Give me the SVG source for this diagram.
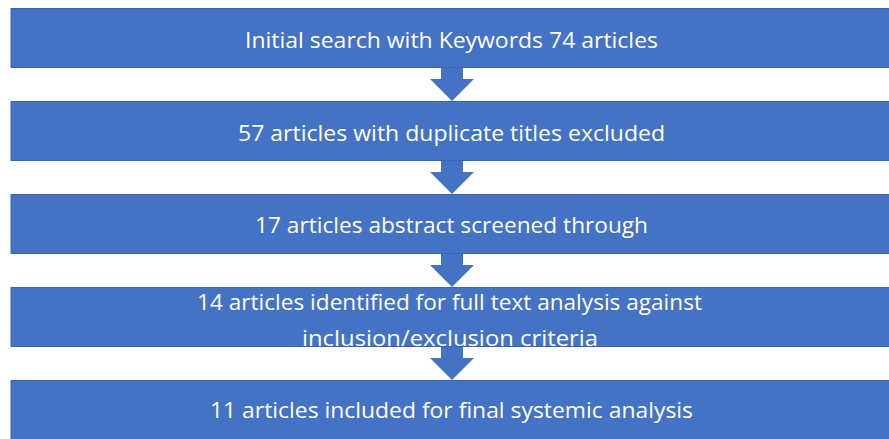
<svg xmlns="http://www.w3.org/2000/svg" width="889" height="439" viewBox="0 0 889 439">
<style>
.box{fill:#4472C4;stroke:#3A65B3;stroke-width:1}
.lbl{fill:#ffffff;font-family:"Open Sans","Noto Sans","Liberation Sans",sans-serif;font-size:22.5px;text-anchor:start}
.arr{fill:#4472C4}
</style>
<rect width="889" height="439" fill="#ffffff"/>
<g id="connectors">
<path class="arr" d="M441,66 L463,66 L463,79 L474,79 L452,101 L430,79 L441,79 Z"/>
<path class="arr" d="M441,159 L463,159 L463,172 L474,172 L452,194 L430,172 L441,172 Z"/>
<path class="arr" d="M441,252 L463,252 L463,265 L474,265 L452,287 L430,265 L441,265 Z"/>
<path class="arr" d="M441,345 L463,345 L463,358 L474,358 L452,380 L430,358 L441,358 Z"/>
</g>
<g id="node1">
<rect class="box" x="11" y="8.5" width="880" height="59"/>
<text class="lbl" x="245" y="48" textLength="413" lengthAdjust="spacingAndGlyphs">Initial search with Keywords 74 articles</text>
</g>
<g id="node2">
<rect class="box" x="11" y="101.5" width="880" height="59"/>
<text class="lbl" x="238" y="141" textLength="427" lengthAdjust="spacingAndGlyphs">57 articles with duplicate titles excluded</text>
</g>
<g id="node3">
<rect class="box" x="11" y="194.5" width="880" height="59"/>
<text class="lbl" x="255" y="233" textLength="393" lengthAdjust="spacingAndGlyphs">17 articles abstract screened through</text>
</g>
<g id="node4">
<rect class="box" x="11" y="287.5" width="880" height="59"/>
<text class="lbl" x="197" y="310" textLength="505" lengthAdjust="spacingAndGlyphs">14 articles identified for full text analysis against</text>
<text class="lbl" x="302" y="346" textLength="296" lengthAdjust="spacingAndGlyphs">inclusion/exclusion criteria</text>
</g>
<g id="node5">
<rect class="box" x="11" y="380.5" width="880" height="60"/>
<text class="lbl" x="210" y="418" textLength="483" lengthAdjust="spacingAndGlyphs">11 articles included for final systemic analysis</text>
</g>
</svg>
